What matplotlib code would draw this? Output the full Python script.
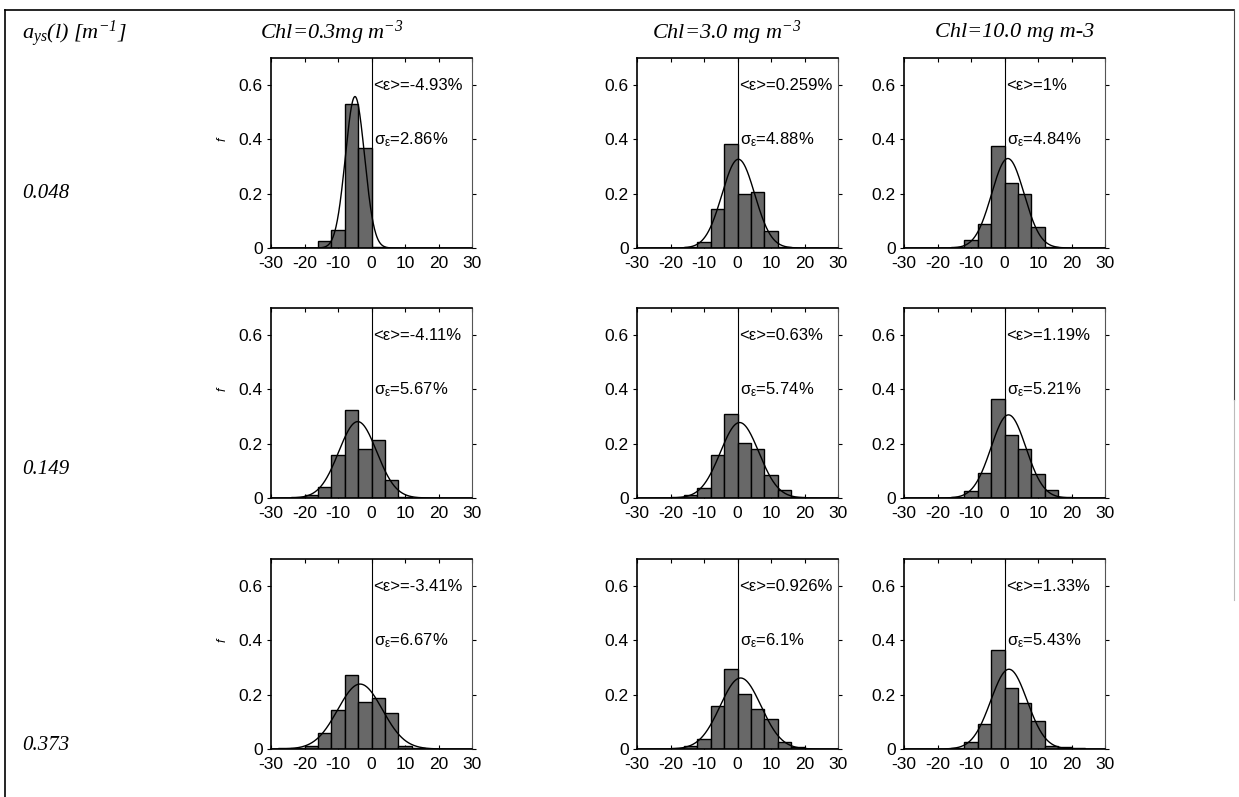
import numpy as np
import matplotlib
matplotlib.use("Agg")
import matplotlib.pyplot as plt
from matplotlib.lines import Line2D

plt.rcParams['font.family'] = ['Liberation Sans', 'DejaVu Sans']
plt.rcParams['mathtext.fontset'] = 'custom'
plt.rcParams['mathtext.rm'] = 'Liberation Serif:italic'
plt.rcParams['mathtext.it'] = 'Liberation Serif:italic'
plt.rcParams['mathtext.bf'] = 'Liberation Serif:italic:bold'

# ---------------- data ----------------
bin_left = [-28, -24, -20, -16, -12, -8, -4, 0, 4, 8, 12, 16, 20, 24]
bin_width = 4

col_titles = ['Chl=0.3mg m$^{-3}$',
              'Chl=3.0 mg m$^{-3}$',
              'Chl=10.0 mg m-3']
row_labels = ['0.048', '0.149', '0.373']

# relative frequency per bin (rows: a_ys 0.048, 0.149, 0.373; cols: Chl 0.3, 3.0, 10.0)
freq_r0_c0 = [0, 0, 0, 0.025, 0.065, 0.53, 0.37, 0.004, 0, 0, 0, 0, 0, 0]
freq_r0_c1 = [0, 0, 0, 0.005, 0.022, 0.142, 0.385, 0.200, 0.205, 0.062, 0.003, 0, 0, 0]
freq_r0_c2 = [0, 0, 0, 0.003, 0.028, 0.089, 0.374, 0.241, 0.198, 0.077, 0.005, 0, 0, 0]
freq_r1_c0 = [0, 0.005, 0.012, 0.040, 0.157, 0.323, 0.180, 0.213, 0.068, 0.003, 0, 0, 0, 0]
freq_r1_c1 = [0, 0, 0.003, 0.010, 0.037, 0.160, 0.308, 0.203, 0.182, 0.086, 0.028, 0.005, 0, 0]
freq_r1_c2 = [0, 0, 0, 0.005, 0.025, 0.093, 0.363, 0.231, 0.182, 0.087, 0.028, 0.003, 0, 0]
freq_r2_c0 = [0.005, 0.005, 0.010, 0.058, 0.142, 0.271, 0.172, 0.188, 0.132, 0.010, 0.004, 0, 0, 0]
freq_r2_c1 = [0, 0, 0.003, 0.010, 0.037, 0.158, 0.296, 0.201, 0.148, 0.111, 0.026, 0.008, 0, 0]
freq_r2_c2 = [0, 0, 0, 0.004, 0.025, 0.093, 0.364, 0.224, 0.170, 0.103, 0.012, 0.007, 0.002, 0]

freqs = [[freq_r0_c0, freq_r0_c1, freq_r0_c2],
         [freq_r1_c0, freq_r1_c1, freq_r1_c2],
         [freq_r2_c0, freq_r2_c1, freq_r2_c2]]

mean_vals = [[-4.93, 0.259, 1.0], [-4.11, 0.63, 1.19], [-3.41, 0.926, 1.33]]
sigma_vals = [[2.86, 4.88, 4.84], [5.67, 5.74, 5.21], [6.67, 6.1, 5.43]]
mean_txt = [['-4.93', '0.259', '1'], ['-4.11', '0.63', '1.19'], ['-3.41', '0.926', '1.33']]
sigma_txt = [['2.86', '4.88', '4.84'], ['5.67', '5.74', '5.21'], ['6.67', '6.1', '5.43']]

x_ticks = [-30, -20, -10, 0, 10, 20, 30]
y_ticks = [0, 0.2, 0.4, 0.6]
y_ticklabels = ['0', '0.2', '0.4', '0.6']

# ---------------- layout ----------------
W, H = 1239, 797
fig = plt.figure(figsize=(W / 100, H / 100), dpi=100)
fig.patch.set_facecolor('white')

col_left = [271, 637, 904]
row_top = [58, 308, 559]
ax_w, ax_h = 201, 190

def fx(px):
    return px / W

def fy(py):
    return 1 - py / H

# frame
fig.add_artist(Line2D([fx(5), fx(1234)], [fy(10), fy(10)], color='black', lw=1.2))
fig.add_artist(Line2D([fx(5), fx(5)], [fy(10), fy(797)], color='black', lw=1.2))
fig.add_artist(Line2D([fx(1234), fx(1234)], [fy(10), fy(400)], color='#444444', lw=0.8))
fig.add_artist(Line2D([fx(1234), fx(1234)], [fy(400), fy(600)], color='#bbbbbb', lw=0.8))

serif_kw = dict(family='Liberation Serif', style='italic', math_fontfamily='custom')

# headers
fig.text(fx(22), fy(34), 'a$_{ys}$(l) [m$^{-1}$]', fontsize=16, va='center', ha='left', **serif_kw)
title_x = [260, 652, 935]
for j in range(3):
    fig.text(fx(title_x[j]), fy(33), col_titles[j], fontsize=16, va='center', ha='left', **serif_kw)
row_label_y = [193, 470, 745]
for i in range(3):
    fig.text(fx(22), fy(row_label_y[i]), row_labels[i], fontsize=15, va='center', ha='left',
             family='Liberation Serif', style='italic')

xs = np.linspace(-30, 30, 601)
for i in range(3):
    for j in range(3):
        ax = fig.add_axes([fx(col_left[j]), fy(row_top[i] + ax_h), fx(ax_w), ax_h / H])
        h = np.array(freqs[i][j])
        left = np.array(bin_left)
        mask = h > 0
        ax.bar(left[mask], h[mask], width=bin_width, align='edge', color='#686868',
               edgecolor='black', linewidth=1.0, zorder=2)
        m, s = mean_vals[i][j], sigma_vals[i][j]
        curve = bin_width * np.exp(-0.5 * ((xs - m) / s) ** 2) / (s * np.sqrt(2 * np.pi))
        ax.plot(xs, curve, color='black', lw=1.0, zorder=3)
        ax.axvline(0, color='black', lw=0.8, zorder=1)
        ax.set_xlim(-30, 30)
        ax.set_ylim(0, 0.7)
        ax.set_xticks(x_ticks)
        ax.set_xticklabels([str(t) for t in x_ticks])
        ax.set_yticks(y_ticks)
        ax.set_yticklabels(y_ticklabels)
        ax.tick_params(axis='both', labelsize=12.5, length=3, width=0.8)
        ax.tick_params(axis='y', direction='out', right=True, pad=3)
        ax.tick_params(axis='x', direction='in', top=True, pad=6)
        for side in ['left', 'bottom', 'top']:
            ax.spines[side].set_linewidth(1.2)
            ax.spines[side].set_color('black')
        ax.spines['right'].set_linewidth(0.8)
        ax.spines['right'].set_color('#555555')
        ax.spines['right'].set_linestyle((0, (1, 1)))
        ax.text(0.6, 0.6, '<ε>=' + mean_txt[i][j] + '%', fontsize=12, va='center', ha='left',
                zorder=4)
        ax.text(0.6, 0.4, 'σ$_{\\mathregular{ε}}$=' + sigma_txt[i][j] + '%', fontsize=12,
                va='center', ha='left', zorder=4)
        if j == 0:
            ax.text(-0.24, 0.57, 'f', transform=ax.transAxes, rotation=90, fontsize=9,
                    style='italic', va='center', ha='center')

fig.savefig('out.png', dpi=100, facecolor='white')
